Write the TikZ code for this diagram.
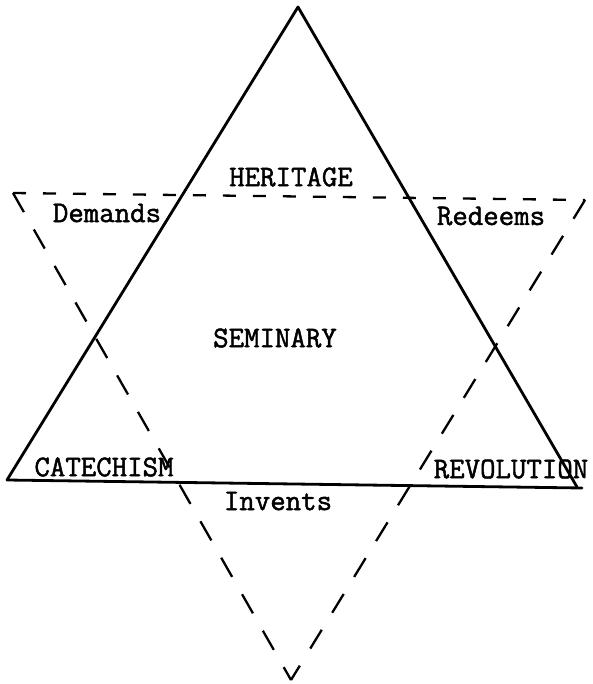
\documentclass[tikz,border=0pt]{standalone}
\usepackage{fontspec}
\newfontfamily\tw[FakeBold=1.6]{Latin Modern Mono}
\begin{document}
\begin{tikzpicture}[x=1pt,y=-1pt,
  solidedge/.style={line width=2.8pt,line cap=round,line join=round},
  dashedge/.style={line width=2.3pt,dash pattern=on 22pt off 20pt},
  topdash/.style={line width=2.3pt,dash pattern=on 13pt off 17pt},
  lbl/.style={font=\tw\fontsize{30}{32}\selectfont,inner sep=0pt}]
\useasboundingbox[fill=white] (0,0) rectangle (593,684);
% solid triangle
\coordinate (A) at (298,7);
\coordinate (B) at (7,480);
\coordinate (C) at (582,488);
\coordinate (Cr) at (577,487);
% dashed triangle
\coordinate (D) at (13,193);
\coordinate (E) at (585,200);
\coordinate (F) at (291,680);
\draw[solidedge] (B) -- (A) -- (Cr);
\draw[solidedge] (B) -- (C);
\draw[topdash] (D) -- (E);
\draw[dashedge] (D) -- (F);
\draw[dashedge] (E) -- (F);
% labels
\node[lbl] (heritage) at (291,177) {HERITAGE};
\node[lbl] (demands) at (107,213) {Demands};
\node[lbl] (redeems) at (491,216) {Redeems};
\node[lbl] (seminary) at (275,338) {SEMINARY};
\node[lbl] (catechism) at (104,467) {CATECHISM};
\node[lbl] (revolution) at (511,469) {REVOLUTION};
\node[lbl] (invents) at (278,501) {Invents};
\end{tikzpicture}
\end{document}
